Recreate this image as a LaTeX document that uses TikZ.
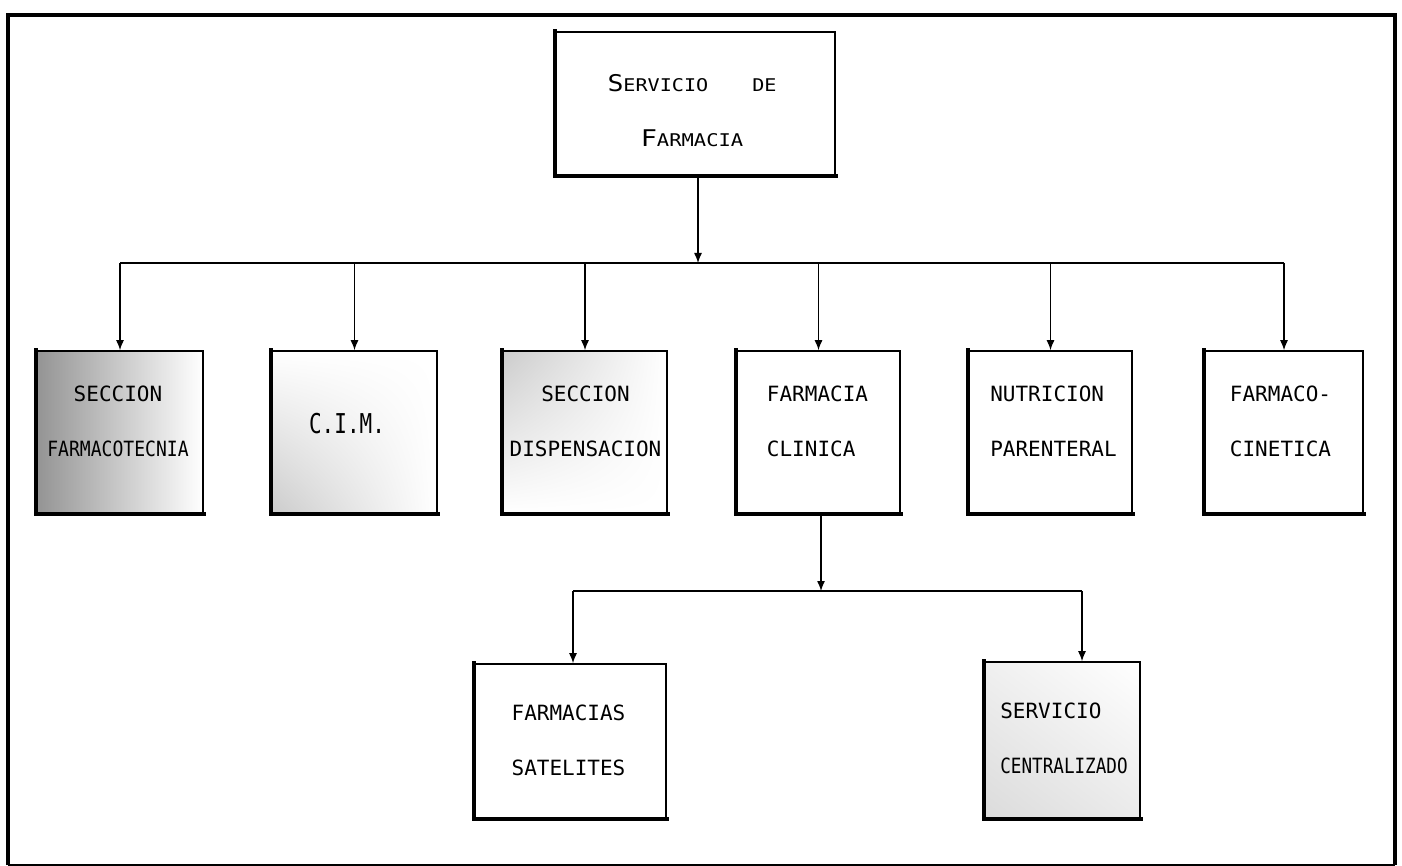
\documentclass[tikz,border=0pt]{standalone}
\usepackage{fontspec}
\newfontfamily\monof{DejaVu Sans Mono}
\usetikzlibrary{arrows.meta,shadings}
\tikzset{
  box/.style={draw=black, line width=1.6pt, inner sep=0pt, fill=white},
  boxtext/.style={font=\monof\fontsize{21}{55}\selectfont, inner sep=0pt},
  arr/.style={-{Latex[length=10pt,width=8pt]}, line width=1.3pt},
  conn/.style={line width=1.3pt},
  heavy/.style={line width=4.5pt, line cap=rect}
}
\newcommand{\bigS}[1]{{\fontsize{23}{55}\selectfont #1}}
\begin{document}
\begin{tikzpicture}[x=1pt, y=-1pt]
\useasboundingbox (0,0) rectangle (1402,866);
% outer frame
\coordinate (fbl) at (8,865);
\coordinate (ftl) at (8,15.5);
\coordinate (ftr) at (1394.5,15.5);
\coordinate (fbr) at (1394.5,865);
\draw[line width=4pt] (fbl) -- (ftl) -- (ftr) -- (fbr);
\draw[line width=1.6pt] (fbl) -- (fbr);

% top box
\node[box, minimum width=279pt, minimum height=143pt] (top) at (695.5,103.5) {};
\draw[heavy] (top.north west) -- (top.south west) -- (top.south east);
\node[font=\monof\fontsize{17.5}{55}\selectfont, align=center, inner sep=0pt] (topt) at (692,111)
  {\scalebox{1.15}[1]{\bigS{S}ERVICIO}\hspace{44pt}\scalebox{1.15}[1]{DE}\\
   \scalebox{1.17}[1]{\bigS{F}ARMACIA}};

% second row boxes
\node[box, minimum width=166pt, minimum height=162pt, left color=black!42, right color=white] (b1) at (120,432) {};
\node[box, minimum width=165pt, minimum height=162pt, lower left=black!20, upper left=white, upper right=white, lower right=white] (b2) at (354.5,432) {};
\node[box, minimum width=164pt, minimum height=162pt, upper left=black!20, lower left=white, upper right=white, lower right=white] (b3) at (585,432) {};
\node[box, minimum width=163pt, minimum height=162pt] (b4) at (818.5,432) {};
\node[box, minimum width=163pt, minimum height=162pt] (b5) at (1050.5,432) {};
\node[box, minimum width=158pt, minimum height=162pt] (b6) at (1284,432) {};
\foreach \b in {b1,b2,b3,b4,b5,b6}{
  \draw[heavy] (\b.north west) -- (\b.south west) -- (\b.south east);
}
\node[boxtext, align=center] (t1) at (118,421) {SECCION\\\scalebox{0.86}[1]{FARMACOTECNIA}};
\node[boxtext] (t2) at (347,424) {\scalebox{1}[1.3]{C.I.M.}};
\node[boxtext, align=center] (t3) at (585.5,421) {SECCION\\DISPENSACION};
\node[boxtext, align=left] (t4) at (817.5,421) {FARMACIA\\CLINICA};
\node[boxtext, align=left] (t5) at (1053.5,421) {NUTRICION\\PARENTERAL};
\node[boxtext, align=left] (t6) at (1280.5,421) {FARMACO-\\CINETICA};

% third row boxes
\node[box, minimum width=191pt, minimum height=154pt] (ba) at (570.5,741) {};
\node[box, minimum width=155pt, minimum height=156pt, lower left=black!14, upper left=black!6, upper right=white, lower right=black!8] (bb) at (1062.5,740) {};
\draw[heavy] (ba.north west) -- (ba.south west) -- (ba.south east);
\draw[heavy] (bb.north west) -- (bb.south west) -- (bb.south east);
\node[boxtext, align=center] (ta) at (568.5,740) {FARMACIAS\\SATELITES};
\node[boxtext, align=left] (tb) at (1064,738) {SERVICIO\\\scalebox{0.84}[1]{CENTRALIZADO}};

% connectors level 1
\coordinate (j1) at (698,263);
\coordinate (h1l) at (120,263);
\coordinate (h1r) at (1284,263);
\draw[arr] (top.south -| j1) -- (j1);
\draw[conn] (h1l) -- (h1r);
\foreach \b in {b1,b2,b3,b4,b5,b6}{
  \draw[arr] (h1l -| \b.north) -- (\b.north);
}

% connectors level 2
\coordinate (j2) at (821,591);
\coordinate (h2l) at (573,591);
\coordinate (h2r) at (1082,591);
\draw[arr] (b4.south -| j2) -- (j2);
\draw[conn] (h2l) -- (h2r);
\draw[arr] (h2l) -- (h2l |- ba.north);
\draw[arr] (h2r) -- (h2r |- bb.north);
\end{tikzpicture}
\end{document}
